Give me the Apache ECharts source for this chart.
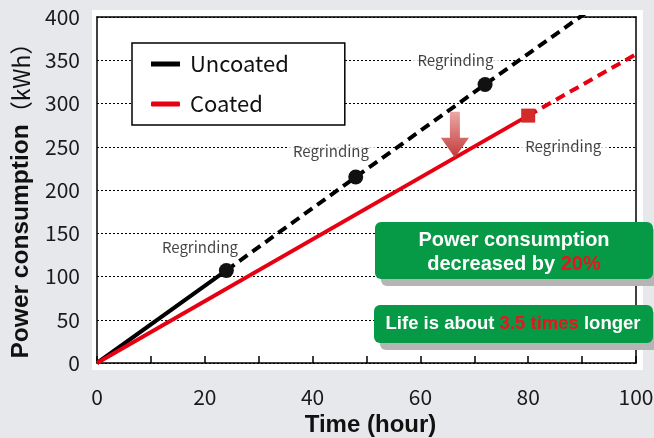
<!DOCTYPE html>
<html><head><meta charset="utf-8">
<script src="https://cdn.jsdelivr.net/npm/echarts@6/dist/echarts.min.js"></script>
<style>html,body{margin:0;padding:0;background:#e7e8ec}#c{width:654px;height:438px}</style>
</head><body><div id="c"></div>
<script>
const xTicks = [0, 20, 40, 60, 80, 100];
const yTicks = [0, 50, 100, 150, 200, 250, 300, 350, 400];
const uncoatedSolid = [[0, 0], [24, 107]];
const uncoatedDashed = [[24, 107], [48, 215], [72, 322], [90.5, 404]];
const uncoatedRegrind = [[24, 107], [48, 215], [72, 322]];
const coatedSolid = [[0, 0], [80, 286]];
const coatedDashed = [[80, 286], [100, 357]];
const coatedRegrind = [[80, 286]];
const regrindLabels = [[19.1, 134], [43.4, 245], [66.5, 350], [86.5, 251]];
const arrowAt = [[66.4, 264]];

const FONT = '"Noto Sans CJK JP", "Liberation Sans", sans-serif';
const BOLD = '"Liberation Sans", Arial, sans-serif';
const chart = echarts.init(document.getElementById('c'));
chart.setOption({
  backgroundColor: '#e7e8ec',
  animation: false,
  grid: { left: 97, right: 18, top: 17, bottom: 75, containLabel: false, outerBoundsMode: 'none' },
  legend: {
    orient: 'vertical', left: 132, top: 43,
    backgroundColor: '#fff', borderColor: '#000', borderWidth: 1.5, borderRadius: 0,
    padding: [9, 56, 9, 19], itemGap: 16, itemWidth: 29, itemHeight: 5,
    textStyle: { fontSize: 22, color: '#111', fontFamily: FONT, lineHeight: 24, padding: [0, 0, 0, 5] },
    data: [{ name: 'Uncoated', icon: 'rect' }, { name: 'Coated', icon: 'roundRect' }]
  },
  xAxis: [{
    type: 'value', min: 0, max: 100, interval: 10,
    axisLine: { lineStyle: { color: '#000', width: 1.5 } },
    axisTick: { show: true, inside: true, length: 7, lineStyle: { color: '#000', width: 1.5 } },
    axisLabel: { margin: 24, fontSize: 21, color: '#1a1a1a', fontFamily: FONT,
      formatter: v => xTicks.includes(v) ? String(v) : '' },
    splitLine: { show: false },
    name: 'Time (hour)', nameLocation: 'middle', nameGap: 49,
    nameTextStyle: { fontSize: 24, fontWeight: 'bold', color: '#111', fontFamily: BOLD, padding: [0, 0, 0, 8] }
  }, {
    type: 'value', min: 0, max: 100, position: 'top',
    axisLine: { show: true, onZero: false, lineStyle: { color: '#000', width: 1.5 } },
    axisTick: { show: false }, axisLabel: { show: false }, splitLine: { show: false }
  }],
  yAxis: [{
    type: 'value', min: 0, max: 400, interval: 50,
    axisLine: { show: true, lineStyle: { color: '#000', width: 1.5 } },
    axisTick: { show: false },
    axisLabel: { margin: 17, fontSize: 21, color: '#1a1a1a', fontFamily: FONT,
      formatter: v => yTicks.includes(v) ? String(v) : '' },
    splitLine: { show: true, lineStyle: { color: '#000', width: 1, type: [2, 2] } },
    name: '{b|Power consumption}{n|（kWh）}', nameLocation: 'middle', nameGap: 57,
    nameTextStyle: { color: '#111', padding: [0, 10, 0, 0],
      rich: { b: { fontSize: 24.5, fontWeight: 'bold', fontFamily: BOLD, color: '#111' },
              n: { fontSize: 23, fontFamily: FONT, color: '#111' } } }
  }, {
    type: 'value', min: 0, max: 400, position: 'right',
    axisLine: { show: true, onZero: false, lineStyle: { color: '#000', width: 1.5 } },
    axisTick: { show: false }, axisLabel: { show: false }, splitLine: { show: false }
  }],
  graphic: [
    { type: 'rect', z: -10, silent: true, shape: { x: 92, y: 10, width: 551, height: 360 }, style: { fill: '#fff' } },
    { type: 'rect', z: 100, shape: { x: 375, y: 222, width: 278, height: 57, r: 6 },
      style: { fill: '#079a46', shadowColor: '#b5b5b5', shadowOffsetX: 6, shadowOffsetY: 7, shadowBlur: 0 } },
    { type: 'text', z: 101, x: 514, y: 252, style: {
        text: '{w|Power consumption}\n{w|decreased by }{r|20%}', align: 'center', verticalAlign: 'middle',
        rich: { w: { fill: '#fff', fontSize: 20, fontWeight: 'bold', fontFamily: BOLD, lineHeight: 24 },
                r: { fill: '#e8141e', fontSize: 20, fontWeight: 'bold', fontFamily: BOLD, lineHeight: 24 } } } },
    { type: 'rect', z: 100, shape: { x: 374, y: 305, width: 279, height: 38, r: 6 },
      style: { fill: '#079a46', shadowColor: '#b5b5b5', shadowOffsetX: 6, shadowOffsetY: 7, shadowBlur: 0 } },
    { type: 'text', z: 101, x: 513, y: 324, style: {
        text: '{w|Life is about }{r|3.5 times}{w| longer}', align: 'center', verticalAlign: 'middle',
        rich: { w: { fill: '#fff', fontSize: 18.5, fontWeight: 'bold', fontFamily: BOLD },
                r: { fill: '#e8141e', fontSize: 18.5, fontWeight: 'bold', fontFamily: BOLD } } } }
  ],
  series: [
    { name: 'Uncoated', type: 'line', data: uncoatedSolid, symbol: 'none', color: '#000',
      lineStyle: { color: '#000', width: 4 }, z: 3 },
    { name: 'UncoatedDash', type: 'line', data: uncoatedDashed, symbol: 'none', color: '#000',
      lineStyle: { color: '#000', width: 4, type: [10, 6] }, z: 3 },
    { name: 'UncoatedMk', type: 'scatter', data: uncoatedRegrind, symbol: 'circle', symbolSize: 15,
      itemStyle: { color: '#111', opacity: 1 }, z: 5 },
    { name: 'Coated', type: 'line', data: coatedSolid, symbol: 'none', color: '#e60012',
      lineStyle: { color: '#e60012', width: 4 }, z: 4 },
    { name: 'CoatedDash', type: 'line', data: coatedDashed, symbol: 'none', color: '#e60012',
      lineStyle: { color: '#e60012', width: 4, type: [10, 6] }, z: 4 },
    { name: 'CoatedMk', type: 'scatter', data: coatedRegrind, symbol: 'rect', symbolSize: 14,
      itemStyle: { color: '#d42a2a', opacity: 1 }, z: 5 },
    { name: 'Labels', type: 'scatter', data: regrindLabels, symbolSize: 0, z: 2,
      label: { show: true, position: 'inside', formatter: 'Regrinding', fontSize: 15, color: '#111',
        fontFamily: FONT, backgroundColor: '#fff', padding: [2, 6] } },
    { name: 'Arrow', type: 'scatter', data: arrowAt, z: 6,
      symbol: 'path://M9,0 L19,0 L19,26 L28,26 L14,46 L0,26 L9,26 Z', symbolSize: [28, 46],
      itemStyle: { opacity: 1, color: new echarts.graphic.LinearGradient(0, 0, 0, 1, [
        { offset: 0, color: '#eba9a6' }, { offset: 1, color: '#c23a3a' }]) } }
  ]
});
</script></body></html>
